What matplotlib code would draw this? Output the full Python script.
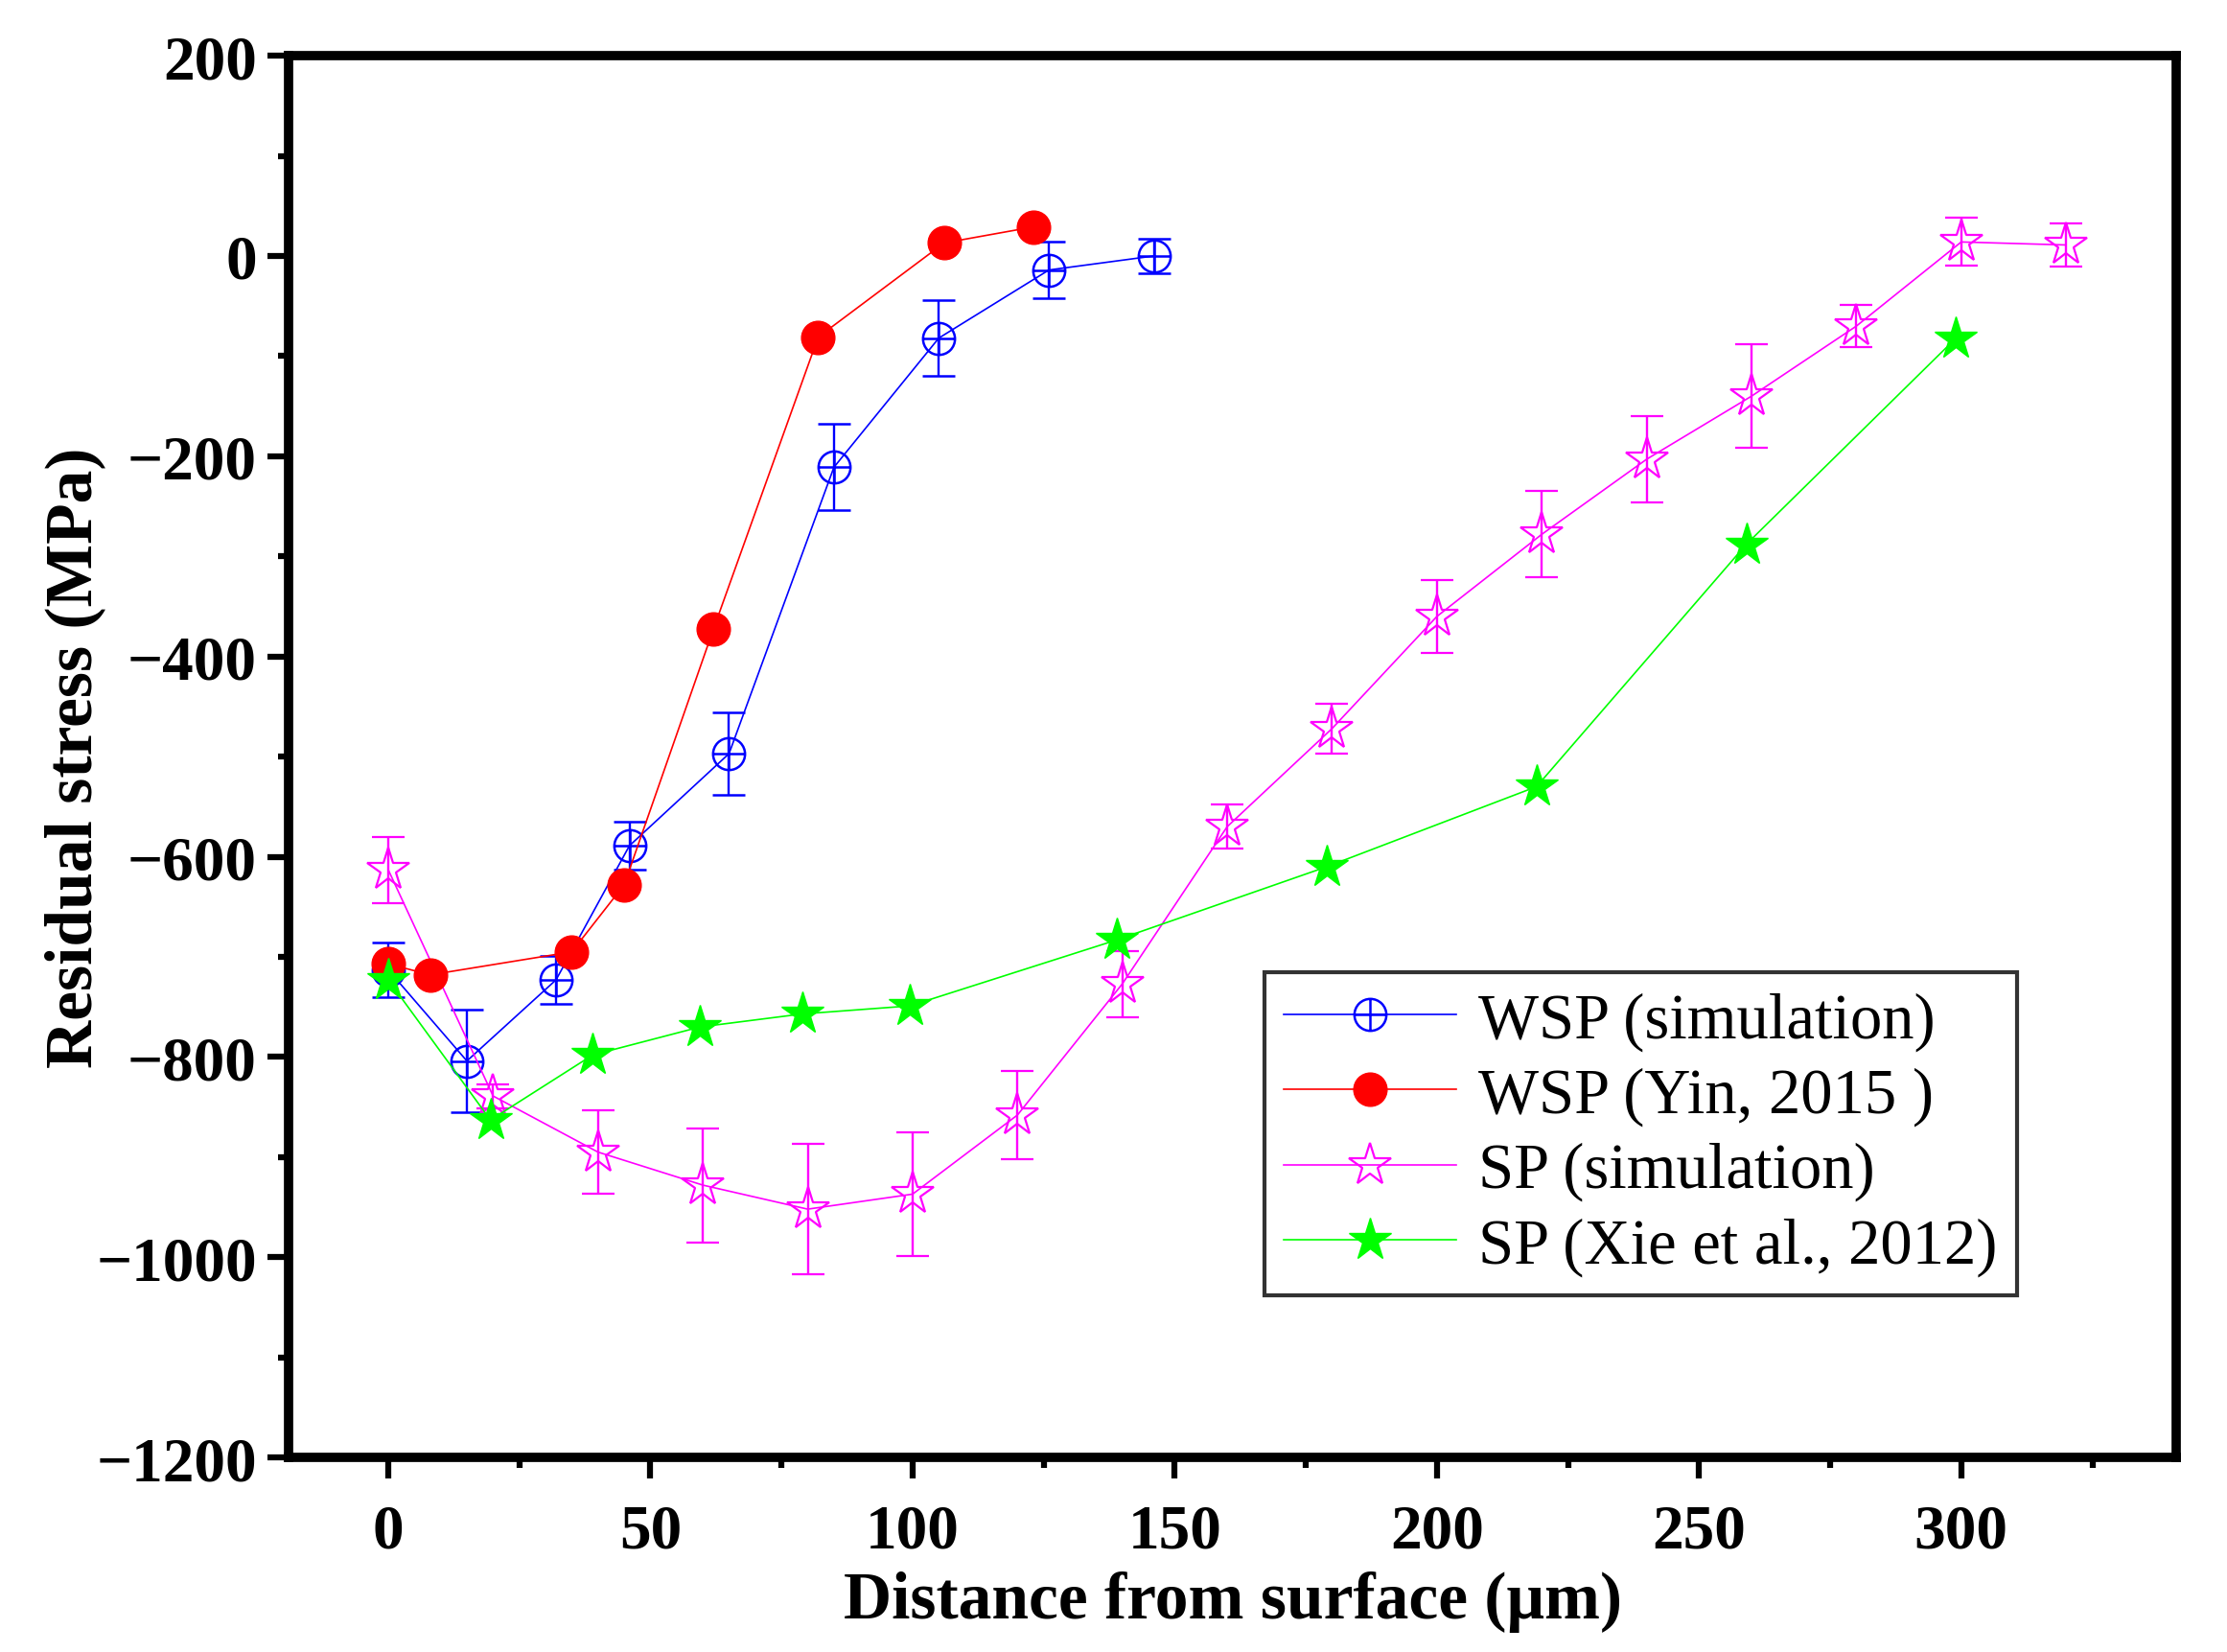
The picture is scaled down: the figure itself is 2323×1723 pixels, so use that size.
import matplotlib
matplotlib.use("Agg")
import matplotlib.pyplot as plt
from matplotlib.path import Path
from matplotlib.lines import Line2D

plt.rcParams['font.family'] = ['Liberation Serif', 'DejaVu Serif']

# WSP (simulation)
wsp_sim_x = [0, 15, 32, 46, 65, 85, 105, 126, 146]
wsp_sim_y = [-713, -804, -723, -589, -497, -211, -82, -14, 0]
wsp_sim_err = [27, 51, 24, 24, 41, 43, 38, 28, 17]

# WSP (Yin, 2015)
wsp_yin_x = [0, 8, 35, 45, 62, 82, 106, 123]
wsp_yin_y = [-707, -718, -695, -628, -373, -81, 13, 29]

# SP (simulation)
sp_sim_x = [0, 20, 40, 60, 80, 100, 120, 140, 160, 180, 200, 220, 240, 260, 280, 300, 320]
sp_sim_y = [-613, -839, -895, -928, -952, -937, -858, -727, -570, -472, -360, -278, -203, -140, -70, 14, 11]
sp_sim_err = [33, 12, 42, 57, 65, 62, 44, 33, 22, 25, 36, 43, 43, 52, 21, 24, 22]

# SP (Xie et al., 2012)
sp_xie_x = [0, 19.5, 39, 59.5, 79, 99.5, 139, 179, 219, 259, 299]
sp_xie_y = [-723, -863, -798, -770, -757, -749, -683, -610, -530, -288, -82]

labels = ['WSP (simulation)', 'WSP (Yin, 2015 )', 'SP (simulation)', 'SP (Xie et al., 2012)']

# circle with a cross inside
oplus = Path.make_compound_path(
    Path.unit_circle(),
    Path([[-1, 0], [1, 0]], [Path.MOVETO, Path.LINETO]),
    Path([[0, -1], [0, 1]], [Path.MOVETO, Path.LINETO]),
)

fig = plt.figure(figsize=(23.23, 17.24), dpi=100)
ax = fig.add_axes([0.1296, 0.1177, 0.8476, 0.848])

ax.errorbar(wsp_sim_x, wsp_sim_y, yerr=wsp_sim_err, color='#0000ff', lw=1.2,
            marker=oplus, ms=24, mfc='none', mew=1.8,
            elinewidth=1.7, capsize=12, capthick=1.7, zorder=3)
ax.plot(wsp_yin_x, wsp_yin_y, color='#ff0000', lw=1.2, marker='o', ms=25,
        mfc='#ff0000', mec='#ff0000', zorder=4)
ax.errorbar(sp_sim_x, sp_sim_y, yerr=sp_sim_err, color='#ff00ff', lw=1.2,
            marker='*', ms=33, mfc='none', mew=1.6,
            elinewidth=1.7, capsize=12, capthick=1.7, zorder=3)
ax.plot(sp_xie_x, sp_xie_y, color='#00ff00', lw=1.2, marker='*', ms=33,
        mfc='#00ff00', mec='#00ff00', zorder=4)

ax.set_xlim(-19, 341)
ax.set_ylim(-1200, 200)
ax.set_xticks([0, 50, 100, 150, 200, 250, 300])
ax.set_xticks([25, 75, 125, 175, 225, 275, 325], minor=True)
ax.set_yticks([-1200, -1000, -800, -600, -400, -200, 0, 200])
ax.set_yticks([-1100, -900, -700, -500, -300, -100, 100], minor=True)

for s in ax.spines.values():
    s.set_linewidth(7)
ax.tick_params(which='major', direction='out', length=16, width=4.5,
               labelsize=47, pad=18, top=False, right=False)
ax.tick_params(axis='y', which='major', pad=8)
ax.tick_params(which='minor', direction='out', length=8, width=4.5,
               top=False, right=False)
for t in ax.get_xticklabels() + ax.get_yticklabels():
    t.set_fontweight('bold')

ax.set_xlabel('Distance from surface (μm)', fontsize=50, fontweight='bold', labelpad=8)
ax.set_ylabel('Residual stress (MPa)', fontsize=50, fontweight='bold')
ax.yaxis.set_label_coords(-0.097, 0.5)

handles = [
    Line2D([], [], color='#0000ff', lw=1.2, marker=oplus, ms=24, mfc='none', mew=1.8),
    Line2D([], [], color='#ff0000', lw=1.2, marker='o', ms=25, mfc='#ff0000'),
    Line2D([], [], color='#ff00ff', lw=1.2, marker='*', ms=33, mfc='none', mew=1.6),
    Line2D([], [], color='#00ff00', lw=1.2, marker='*', ms=33, mfc='#00ff00'),
]
leg = ax.legend(handles, labels, loc='upper left', bbox_to_anchor=(0.517, 0.346),
                borderaxespad=0, fontsize=48, frameon=True, fancybox=False,
                edgecolor='black', handlelength=2.7, labelspacing=0.25,
                handletextpad=0.35, borderpad=0.3)
leg.get_frame().set_linewidth(3)

fig.savefig('out.png', dpi=100)
